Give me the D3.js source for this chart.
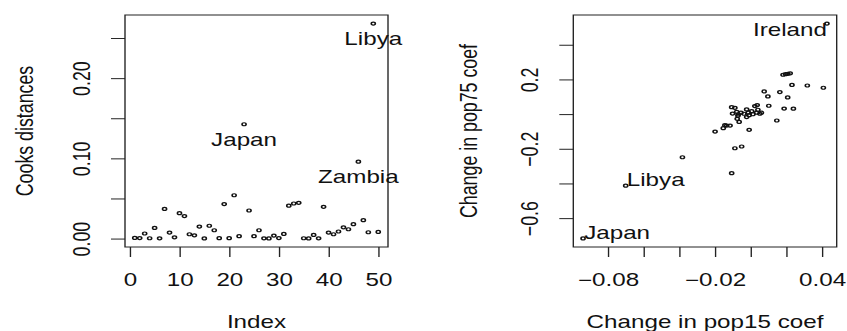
<!DOCTYPE html>
<html>
<head>
<meta charset="utf-8">
<script src="https://cdn.jsdelivr.net/npm/d3@7"></script>
<style>
body { margin: 0; background: #fff; }
svg { display: block; }
text { font-family: "Liberation Sans", Arial, sans-serif; font-size: 17.8px; fill: #111; }
.tick line, .frame { stroke: #222; stroke-width: 1; }
.frame { fill: none; }
.pt { fill: none; stroke: #111; stroke-width: 1.2; }
</style>
</head>
<body>
<div class="container"></div>
<script>
// LifeCycleSavings countries, in data order (Index 1..50)
const countries = ["Australia","Austria","Belgium","Bolivia","Brazil","Canada","Chile","China","Colombia","Costa Rica",
    "Denmark","Ecuador","Finland","France","Germany","Greece","Guatamala","Honduras","Iceland","India",
    "Ireland","Italy","Japan","Korea","Luxembourg","Malta","Norway","Netherlands","New Zealand","Nicaragua",
    "Panama","Paraguay","Peru","Philippines","Portugal","South Africa","South Rhodesia","Spain","Sweden","Switzerland",
    "Turkey","Tunisia","United Kingdom","United States","Venezuela","Zambia","Jamaica","Uruguay","Libya","Malaysia"];

const cooksD = [0.0008,0.0006,0.0063,0.0004,0.0133,0.0003,0.0370,0.0075,0.0015,0.0316,
    0.0280,0.0054,0.0040,0.0150,0.0002,0.0160,0.0104,0.0005,0.0430,0.0005,
    0.0540,0.0030,0.1425,0.0350,0.0030,0.0104,0.0003,0.0002,0.0037,0.0006,
    0.0058,0.0410,0.0437,0.0445,0.0004,0.0002,0.0046,0.0003,0.0396,0.0075,
    0.0054,0.0088,0.0140,0.0116,0.0180,0.0958,0.0229,0.0079,0.2680,0.0083];

const cookLabels = ["Japan", "Zambia", "Libya"];
const cookXTicks = [0, 10, 20, 30, 40, 50];
const cookXLabels = ["0", "10", "20", "30", "40", "50"];
const cookYTicks = [0, 0.05, 0.10, 0.15, 0.20, 0.25];
const cookYLabels = ["0.00", "", "0.10", "", "0.20", ""];

// change in coefficients when each country is dropped (first three are labelled)
const dfbNames = ["Ireland", "Libya", "Japan"];
const dfbPop15 = [0.0428,-0.0700,-0.0939,0.0182,0.0196,0.0209,0.0222,0.0232,0.0318,0.0408,
    0.0076,0.0164,0.0097,0.0208,0.0102,0.0188,0.0240,0.0147,-0.0008,-0.0199,
    -0.0153,-0.0144,-0.0134,-0.0115,-0.0382,-0.0088,-0.0050,-0.0106,-0.0106,-0.0088,
    -0.0101,-0.0078,-0.0069,-0.0075,-0.0064,-0.0022,-0.0013,0.0006,0.0024,0.0037,
    0.0034,0.0052,0.0061,-0.0008,-0.0022,-0.0054,-0.0037,0.0013,-0.0071,0.0041];
const dfbPop75 = [0.522,-0.413,-0.717,0.227,0.230,0.232,0.235,0.168,0.165,0.152,
    0.131,0.127,0.102,0.096,0.048,0.032,0.031,-0.037,-0.091,-0.101,
    -0.081,-0.064,-0.066,-0.066,-0.249,-0.197,-0.187,-0.341,0.040,0.036,
    0.003,0.013,-0.002,-0.027,-0.045,0.027,0.008,0.017,0.046,0.052,
    0.008,0.002,0.008,-0.006,-0.017,0.008,0.002,-0.001,-0.010,0.025];

const dfbXTicks = [-0.08, -0.06, -0.04, -0.02, 0, 0.02, 0.04];
const dfbXLabels = ["\u22120.08", "", "", "\u22120.02", "", "", "0.04"];
const dfbYTicks = [-0.6, -0.4, -0.2, 0, 0.2, 0.4];
const dfbYLabels = ["\u22120.6", "", "\u22120.2", "", "0.2", ""];

// the picture is stretched sideways, so draw in a narrower viewBox
const S = 1.36;
const W = 847, H = 331;
const X = p => p / S;

const svg = d3.select(".container")
    .append("svg")
    .attr("width", W)
    .attr("height", H)
    .attr("viewBox", `0 0 ${W / S} ${H}`)
    .attr("preserveAspectRatio", "none");

// R style limits: data range plus 4% each side
function rLim(values) {
    const [a, b] = d3.extent(values);
    const pad = (b - a) * 0.04;
    return [a - pad, b + pad];
}

const plotTop = 15, plotBottom = 247;

function panel(opt) {
    const g = svg.append("g");
    const x = d3.scaleLinear().domain(rLim(opt.xs)).range([X(opt.x0), X(opt.x1)]);
    const y = d3.scaleLinear().domain(rLim(opt.ys)).range([plotBottom, plotTop]);

    g.append("rect")
        .attr("class", "frame")
        .attr("x", x.range()[0])
        .attr("y", plotTop)
        .attr("width", x.range()[1] - x.range()[0])
        .attr("height", plotBottom - plotTop);

    const xAxis = g.append("g")
        .attr("transform", `translate(0, ${plotBottom})`)
        .call(d3.axisBottom(x)
            .tickValues(opt.xTicks)
            .tickFormat((d, i) => opt.xLabels[i])
            .tickSize(10)
            .tickPadding(16.4));
    xAxis.select(".domain").remove();
    xAxis.selectAll("text").attr("font-size", null).attr("font-family", null);

    const yAxis = g.append("g")
        .attr("transform", `translate(${x.range()[0]}, 0)`)
        .call(d3.axisLeft(y)
            .tickValues(opt.yTicks)
            .tickFormat((d, i) => opt.yLabels[i])
            .tickSize(X(14)));
    yAxis.select(".domain").remove();
    yAxis.selectAll("text")
        .attr("font-size", null).attr("font-family", null)
        .attr("x", 0)
        .attr("y", X(-35))
        .attr("dy", null)
        .attr("text-anchor", "middle")
        .attr("transform", "rotate(-90)");

    g.selectAll(".pt")
        .data(opt.xs)
        .join("circle")
        .attr("class", "pt")
        .attr("cx", d => x(d))
        .attr("cy", (d, i) => y(opt.ys[i]))
        .attr("r", 1.5);

    g.append("text")
        .attr("x", (x.range()[0] + x.range()[1]) / 2)
        .attr("y", 328.5)
        .attr("text-anchor", "middle")
        .text(opt.xTitle);

    g.append("text")
        .attr("transform", `translate(${X(opt.yTitleX)}, ${(plotTop + plotBottom) / 2}) rotate(-90)`)
        .attr("text-anchor", "middle")
        .text(opt.yTitle);

    return { g, x, y };
}

const cookPanel = panel({
    xs: countries.map((c, i) => i + 1),
    ys: cooksD,
    x0: 125, x1: 388,
    xTicks: cookXTicks, xLabels: cookXLabels,
    yTicks: cookYTicks, yLabels: cookYLabels,
    xTitle: "Index", yTitle: "Cooks distances", yTitleX: 32.5
});

cookPanel.g.selectAll(".cook-label")
    .data(cookLabels)
    .join("text")
    .attr("class", "cook-label")
    .attr("text-anchor", "middle")
    .attr("x", d => cookPanel.x(countries.indexOf(d) + 1))
    .attr("y", d => cookPanel.y(cooksD[countries.indexOf(d)]) + 21.7)
    .text(d => d);

const dfbPanel = panel({
    xs: dfbPop15,
    ys: dfbPop75,
    x0: 573.3, x1: 836.7,
    xTicks: dfbXTicks, xLabels: dfbXLabels,
    yTicks: dfbYTicks, yLabels: dfbYLabels,
    xTitle: "Change in pop15 coef", yTitle: "Change in pop75 coef", yTitleX: 477
});

dfbPanel.g.selectAll(".dfb-label")
    .data(dfbNames)
    .join("text")
    .attr("class", "dfb-label")
    .attr("text-anchor", (d, i) => i === 0 ? "end" : "start")
    .attr("x", (d, i) => dfbPanel.x(dfbPop15[i]) + (i === 0 ? 0 : 0.8))
    .attr("y", (d, i) => dfbPanel.y(dfbPop75[i]) + (i === 0 ? 12.7 : 0.6))
    .text(d => d);
</script>
</body>
</html>
